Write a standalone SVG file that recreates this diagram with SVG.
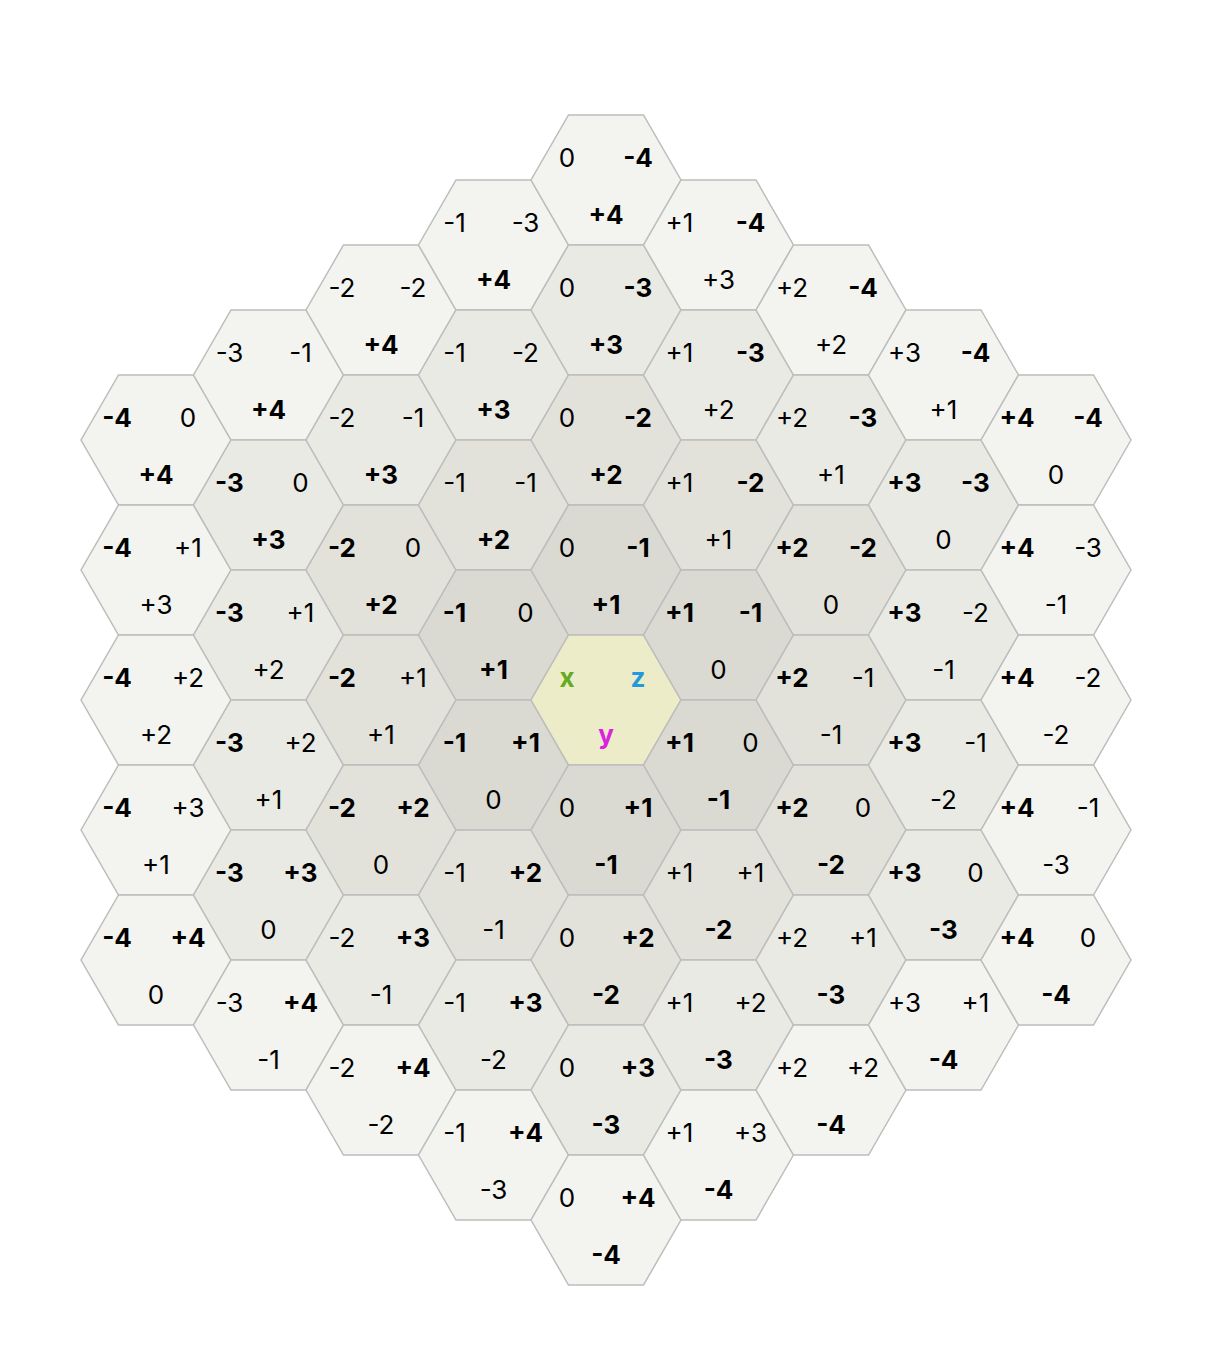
<svg xmlns="http://www.w3.org/2000/svg" xmlns:xlink="http://www.w3.org/1999/xlink" width="1212" height="1348" viewBox="0 0 1212 1348">
<style>
.hx{stroke:#bdbdbd;stroke-width:1.5}
.r0{fill:#ececc9}.r1{fill:#dadad2}.r2{fill:#e2e2db}.r3{fill:#eaeae5}.r4{fill:#f3f3ef}
text{font-family:Inter,"Noto Sans","DejaVu Sans",sans-serif;font-size:26px;text-anchor:middle;fill:#000}
.b{font-weight:bold}
.cx{fill:#66aa22}.cz{fill:#2299dd}.cy{fill:#dd22dd}
</style>
<defs><polygon id="hp" points="75,0 37.5,65 -37.5,65 -75,0 -37.5,-65 37.5,-65"/></defs>
<rect width="1212" height="1348" fill="#ffffff"/>
<g id="connectors"/>
<g id="h-4_4_0" class="r4" transform="translate(156,440)"><use xlink:href="#hp" class="hx"/><text x="-39" y="-13" class="b">-4</text><text x="32" y="-13">0</text><text x="0" y="44" class="b">+4</text></g>
<g id="h-4_3_1" class="r4" transform="translate(156,570)"><use xlink:href="#hp" class="hx"/><text x="-39" y="-13" class="b">-4</text><text x="32" y="-13">+1</text><text x="0" y="44">+3</text></g>
<g id="h-4_2_2" class="r4" transform="translate(156,700)"><use xlink:href="#hp" class="hx"/><text x="-39" y="-13" class="b">-4</text><text x="32" y="-13">+2</text><text x="0" y="44">+2</text></g>
<g id="h-4_1_3" class="r4" transform="translate(156,830)"><use xlink:href="#hp" class="hx"/><text x="-39" y="-13" class="b">-4</text><text x="32" y="-13">+3</text><text x="0" y="44">+1</text></g>
<g id="h-4_0_4" class="r4" transform="translate(156,960)"><use xlink:href="#hp" class="hx"/><text x="-39" y="-13" class="b">-4</text><text x="32" y="-13" class="b">+4</text><text x="0" y="44">0</text></g>

<g id="h-3_4_-1" class="r4" transform="translate(268.5,375)"><use xlink:href="#hp" class="hx"/><text x="-39" y="-13">-3</text><text x="32" y="-13">-1</text><text x="0" y="44" class="b">+4</text></g>
<g id="h-3_3_0" class="r3" transform="translate(268.5,505)"><use xlink:href="#hp" class="hx"/><text x="-39" y="-13" class="b">-3</text><text x="32" y="-13">0</text><text x="0" y="44" class="b">+3</text></g>
<g id="h-3_2_1" class="r3" transform="translate(268.5,635)"><use xlink:href="#hp" class="hx"/><text x="-39" y="-13" class="b">-3</text><text x="32" y="-13">+1</text><text x="0" y="44">+2</text></g>
<g id="h-3_1_2" class="r3" transform="translate(268.5,765)"><use xlink:href="#hp" class="hx"/><text x="-39" y="-13" class="b">-3</text><text x="32" y="-13">+2</text><text x="0" y="44">+1</text></g>
<g id="h-3_0_3" class="r3" transform="translate(268.5,895)"><use xlink:href="#hp" class="hx"/><text x="-39" y="-13" class="b">-3</text><text x="32" y="-13" class="b">+3</text><text x="0" y="44">0</text></g>
<g id="h-3_-1_4" class="r4" transform="translate(268.5,1025)"><use xlink:href="#hp" class="hx"/><text x="-39" y="-13">-3</text><text x="32" y="-13" class="b">+4</text><text x="0" y="44">-1</text></g>

<g id="h-2_4_-2" class="r4" transform="translate(381,310)"><use xlink:href="#hp" class="hx"/><text x="-39" y="-13">-2</text><text x="32" y="-13">-2</text><text x="0" y="44" class="b">+4</text></g>
<g id="h-2_3_-1" class="r3" transform="translate(381,440)"><use xlink:href="#hp" class="hx"/><text x="-39" y="-13">-2</text><text x="32" y="-13">-1</text><text x="0" y="44" class="b">+3</text></g>
<g id="h-2_2_0" class="r2" transform="translate(381,570)"><use xlink:href="#hp" class="hx"/><text x="-39" y="-13" class="b">-2</text><text x="32" y="-13">0</text><text x="0" y="44" class="b">+2</text></g>
<g id="h-2_1_1" class="r2" transform="translate(381,700)"><use xlink:href="#hp" class="hx"/><text x="-39" y="-13" class="b">-2</text><text x="32" y="-13">+1</text><text x="0" y="44">+1</text></g>
<g id="h-2_0_2" class="r2" transform="translate(381,830)"><use xlink:href="#hp" class="hx"/><text x="-39" y="-13" class="b">-2</text><text x="32" y="-13" class="b">+2</text><text x="0" y="44">0</text></g>
<g id="h-2_-1_3" class="r3" transform="translate(381,960)"><use xlink:href="#hp" class="hx"/><text x="-39" y="-13">-2</text><text x="32" y="-13" class="b">+3</text><text x="0" y="44">-1</text></g>
<g id="h-2_-2_4" class="r4" transform="translate(381,1090)"><use xlink:href="#hp" class="hx"/><text x="-39" y="-13">-2</text><text x="32" y="-13" class="b">+4</text><text x="0" y="44">-2</text></g>

<g id="h-1_4_-3" class="r4" transform="translate(493.5,245)"><use xlink:href="#hp" class="hx"/><text x="-39" y="-13">-1</text><text x="32" y="-13">-3</text><text x="0" y="44" class="b">+4</text></g>
<g id="h-1_3_-2" class="r3" transform="translate(493.5,375)"><use xlink:href="#hp" class="hx"/><text x="-39" y="-13">-1</text><text x="32" y="-13">-2</text><text x="0" y="44" class="b">+3</text></g>
<g id="h-1_2_-1" class="r2" transform="translate(493.5,505)"><use xlink:href="#hp" class="hx"/><text x="-39" y="-13">-1</text><text x="32" y="-13">-1</text><text x="0" y="44" class="b">+2</text></g>
<g id="h-1_1_0" class="r1" transform="translate(493.5,635)"><use xlink:href="#hp" class="hx"/><text x="-39" y="-13" class="b">-1</text><text x="32" y="-13">0</text><text x="0" y="44" class="b">+1</text></g>
<g id="h-1_0_1" class="r1" transform="translate(493.5,765)"><use xlink:href="#hp" class="hx"/><text x="-39" y="-13" class="b">-1</text><text x="32" y="-13" class="b">+1</text><text x="0" y="44">0</text></g>
<g id="h-1_-1_2" class="r2" transform="translate(493.5,895)"><use xlink:href="#hp" class="hx"/><text x="-39" y="-13">-1</text><text x="32" y="-13" class="b">+2</text><text x="0" y="44">-1</text></g>
<g id="h-1_-2_3" class="r3" transform="translate(493.5,1025)"><use xlink:href="#hp" class="hx"/><text x="-39" y="-13">-1</text><text x="32" y="-13" class="b">+3</text><text x="0" y="44">-2</text></g>
<g id="h-1_-3_4" class="r4" transform="translate(493.5,1155)"><use xlink:href="#hp" class="hx"/><text x="-39" y="-13">-1</text><text x="32" y="-13" class="b">+4</text><text x="0" y="44">-3</text></g>

<g id="h0_4_-4" class="r4" transform="translate(606,180)"><use xlink:href="#hp" class="hx"/><text x="-39" y="-13">0</text><text x="32" y="-13" class="b">-4</text><text x="0" y="44" class="b">+4</text></g>
<g id="h0_3_-3" class="r3" transform="translate(606,310)"><use xlink:href="#hp" class="hx"/><text x="-39" y="-13">0</text><text x="32" y="-13" class="b">-3</text><text x="0" y="44" class="b">+3</text></g>
<g id="h0_2_-2" class="r2" transform="translate(606,440)"><use xlink:href="#hp" class="hx"/><text x="-39" y="-13">0</text><text x="32" y="-13" class="b">-2</text><text x="0" y="44" class="b">+2</text></g>
<g id="h0_1_-1" class="r1" transform="translate(606,570)"><use xlink:href="#hp" class="hx"/><text x="-39" y="-13">0</text><text x="32" y="-13" class="b">-1</text><text x="0" y="44" class="b">+1</text></g>
<g id="h0_0_0" class="r0" transform="translate(606,700)"><use xlink:href="#hp" class="hx"/><text x="-39" y="-13" class="b cx">x</text><text x="32" y="-13" class="b cz">z</text><text x="0" y="44" class="b cy">y</text></g>
<g id="h0_-1_1" class="r1" transform="translate(606,830)"><use xlink:href="#hp" class="hx"/><text x="-39" y="-13">0</text><text x="32" y="-13" class="b">+1</text><text x="0" y="44" class="b">-1</text></g>
<g id="h0_-2_2" class="r2" transform="translate(606,960)"><use xlink:href="#hp" class="hx"/><text x="-39" y="-13">0</text><text x="32" y="-13" class="b">+2</text><text x="0" y="44" class="b">-2</text></g>
<g id="h0_-3_3" class="r3" transform="translate(606,1090)"><use xlink:href="#hp" class="hx"/><text x="-39" y="-13">0</text><text x="32" y="-13" class="b">+3</text><text x="0" y="44" class="b">-3</text></g>
<g id="h0_-4_4" class="r4" transform="translate(606,1220)"><use xlink:href="#hp" class="hx"/><text x="-39" y="-13">0</text><text x="32" y="-13" class="b">+4</text><text x="0" y="44" class="b">-4</text></g>

<g id="h1_3_-4" class="r4" transform="translate(718.5,245)"><use xlink:href="#hp" class="hx"/><text x="-39" y="-13">+1</text><text x="32" y="-13" class="b">-4</text><text x="0" y="44">+3</text></g>
<g id="h1_2_-3" class="r3" transform="translate(718.5,375)"><use xlink:href="#hp" class="hx"/><text x="-39" y="-13">+1</text><text x="32" y="-13" class="b">-3</text><text x="0" y="44">+2</text></g>
<g id="h1_1_-2" class="r2" transform="translate(718.5,505)"><use xlink:href="#hp" class="hx"/><text x="-39" y="-13">+1</text><text x="32" y="-13" class="b">-2</text><text x="0" y="44">+1</text></g>
<g id="h1_0_-1" class="r1" transform="translate(718.5,635)"><use xlink:href="#hp" class="hx"/><text x="-39" y="-13" class="b">+1</text><text x="32" y="-13" class="b">-1</text><text x="0" y="44">0</text></g>
<g id="h1_-1_0" class="r1" transform="translate(718.5,765)"><use xlink:href="#hp" class="hx"/><text x="-39" y="-13" class="b">+1</text><text x="32" y="-13">0</text><text x="0" y="44" class="b">-1</text></g>
<g id="h1_-2_1" class="r2" transform="translate(718.5,895)"><use xlink:href="#hp" class="hx"/><text x="-39" y="-13">+1</text><text x="32" y="-13">+1</text><text x="0" y="44" class="b">-2</text></g>
<g id="h1_-3_2" class="r3" transform="translate(718.5,1025)"><use xlink:href="#hp" class="hx"/><text x="-39" y="-13">+1</text><text x="32" y="-13">+2</text><text x="0" y="44" class="b">-3</text></g>
<g id="h1_-4_3" class="r4" transform="translate(718.5,1155)"><use xlink:href="#hp" class="hx"/><text x="-39" y="-13">+1</text><text x="32" y="-13">+3</text><text x="0" y="44" class="b">-4</text></g>

<g id="h2_2_-4" class="r4" transform="translate(831,310)"><use xlink:href="#hp" class="hx"/><text x="-39" y="-13">+2</text><text x="32" y="-13" class="b">-4</text><text x="0" y="44">+2</text></g>
<g id="h2_1_-3" class="r3" transform="translate(831,440)"><use xlink:href="#hp" class="hx"/><text x="-39" y="-13">+2</text><text x="32" y="-13" class="b">-3</text><text x="0" y="44">+1</text></g>
<g id="h2_0_-2" class="r2" transform="translate(831,570)"><use xlink:href="#hp" class="hx"/><text x="-39" y="-13" class="b">+2</text><text x="32" y="-13" class="b">-2</text><text x="0" y="44">0</text></g>
<g id="h2_-1_-1" class="r2" transform="translate(831,700)"><use xlink:href="#hp" class="hx"/><text x="-39" y="-13" class="b">+2</text><text x="32" y="-13">-1</text><text x="0" y="44">-1</text></g>
<g id="h2_-2_0" class="r2" transform="translate(831,830)"><use xlink:href="#hp" class="hx"/><text x="-39" y="-13" class="b">+2</text><text x="32" y="-13">0</text><text x="0" y="44" class="b">-2</text></g>
<g id="h2_-3_1" class="r3" transform="translate(831,960)"><use xlink:href="#hp" class="hx"/><text x="-39" y="-13">+2</text><text x="32" y="-13">+1</text><text x="0" y="44" class="b">-3</text></g>
<g id="h2_-4_2" class="r4" transform="translate(831,1090)"><use xlink:href="#hp" class="hx"/><text x="-39" y="-13">+2</text><text x="32" y="-13">+2</text><text x="0" y="44" class="b">-4</text></g>

<g id="h3_1_-4" class="r4" transform="translate(943.5,375)"><use xlink:href="#hp" class="hx"/><text x="-39" y="-13">+3</text><text x="32" y="-13" class="b">-4</text><text x="0" y="44">+1</text></g>
<g id="h3_0_-3" class="r3" transform="translate(943.5,505)"><use xlink:href="#hp" class="hx"/><text x="-39" y="-13" class="b">+3</text><text x="32" y="-13" class="b">-3</text><text x="0" y="44">0</text></g>
<g id="h3_-1_-2" class="r3" transform="translate(943.5,635)"><use xlink:href="#hp" class="hx"/><text x="-39" y="-13" class="b">+3</text><text x="32" y="-13">-2</text><text x="0" y="44">-1</text></g>
<g id="h3_-2_-1" class="r3" transform="translate(943.5,765)"><use xlink:href="#hp" class="hx"/><text x="-39" y="-13" class="b">+3</text><text x="32" y="-13">-1</text><text x="0" y="44">-2</text></g>
<g id="h3_-3_0" class="r3" transform="translate(943.5,895)"><use xlink:href="#hp" class="hx"/><text x="-39" y="-13" class="b">+3</text><text x="32" y="-13">0</text><text x="0" y="44" class="b">-3</text></g>
<g id="h3_-4_1" class="r4" transform="translate(943.5,1025)"><use xlink:href="#hp" class="hx"/><text x="-39" y="-13">+3</text><text x="32" y="-13">+1</text><text x="0" y="44" class="b">-4</text></g>

<g id="h4_0_-4" class="r4" transform="translate(1056,440)"><use xlink:href="#hp" class="hx"/><text x="-39" y="-13" class="b">+4</text><text x="32" y="-13" class="b">-4</text><text x="0" y="44">0</text></g>
<g id="h4_-1_-3" class="r4" transform="translate(1056,570)"><use xlink:href="#hp" class="hx"/><text x="-39" y="-13" class="b">+4</text><text x="32" y="-13">-3</text><text x="0" y="44">-1</text></g>
<g id="h4_-2_-2" class="r4" transform="translate(1056,700)"><use xlink:href="#hp" class="hx"/><text x="-39" y="-13" class="b">+4</text><text x="32" y="-13">-2</text><text x="0" y="44">-2</text></g>
<g id="h4_-3_-1" class="r4" transform="translate(1056,830)"><use xlink:href="#hp" class="hx"/><text x="-39" y="-13" class="b">+4</text><text x="32" y="-13">-1</text><text x="0" y="44">-3</text></g>
<g id="h4_-4_0" class="r4" transform="translate(1056,960)"><use xlink:href="#hp" class="hx"/><text x="-39" y="-13" class="b">+4</text><text x="32" y="-13">0</text><text x="0" y="44" class="b">-4</text></g>
</svg>
